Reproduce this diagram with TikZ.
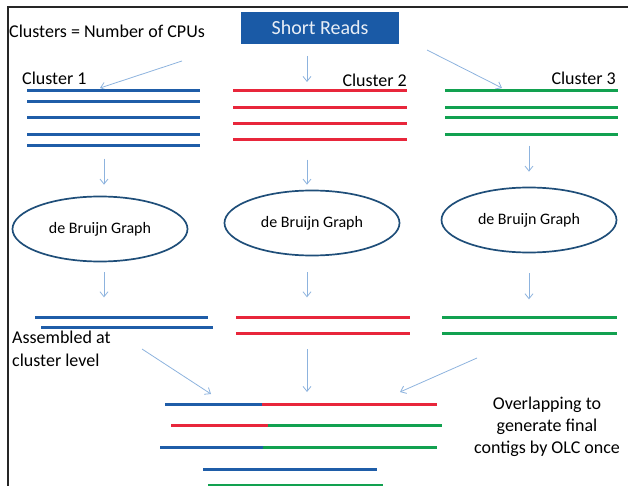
\documentclass[tikz,border=0pt]{standalone}
\usepackage{fontspec}
\setmainfont{Carlito}
\usetikzlibrary{arrows.meta,shapes.geometric}
\definecolor{readBlue}{HTML}{1F5DA8}
\definecolor{readRed}{HTML}{E8263B}
\definecolor{readGreen}{HTML}{12A150}
\definecolor{boxBlue}{HTML}{1A5AA6}
\definecolor{ovalBlue}{HTML}{1F4E79}
\definecolor{arrowBlue}{HTML}{8DB3DE}
\tikzset{
  >={Straight Barb[length=5pt,width=8pt]},
  titlebox/.style={fill=boxBlue, text=white!90!boxBlue, minimum width=158pt,
              minimum height=32pt, inner sep=0pt, font=\fontsize{20}{24}\selectfont},
  lbl/.style={font=\fontsize{18}{23}\selectfont, inner sep=0pt},
  graph/.style={ellipse, draw=ovalBlue, line width=1.7pt, minimum width=175pt,
              minimum height=65pt, inner sep=0pt, font=\fontsize{16}{19}\selectfont},
  flow/.style={->, draw=arrowBlue, line width=0.8pt},
  bread/.style={draw=readBlue, line width=3pt},
  rread/.style={draw=readRed, line width=3pt},
  gread/.style={draw=readGreen, line width=3pt},
}

\begin{document}
\begin{tikzpicture}[x=1pt,y=-1pt]
    \useasboundingbox (0,0) rectangle (628,486);
    \draw[black!85, line width=1.5pt] (8,486) -- (8,7) -- (628,7);

    \node[titlebox] (sr) at (320,28) {Short Reads};
    \node[lbl,anchor=base west] (cpu) at (9,38) {Clusters = Number of CPUs};
    \node[lbl,anchor=base west] (c1) at (22,85) {Cluster 1};
    \node[lbl,anchor=base east] (c2) at (407,87) {Cluster 2};
    \node[lbl,anchor=base east] (c3) at (616,85) {Cluster 3};

    % reads split into clusters
    \coordinate (s1) at (182,61);  \coordinate (e1) at (100,88);
    \coordinate (s2) at (307,56);  \coordinate (e2) at (307,82);
    \coordinate (s3) at (427,50);  \coordinate (e3) at (502,88);
    \draw[flow] (s1) -- (e1);
    \draw[flow] (s2) -- (e2);
    \draw[flow] (s3) -- (e3);

    \foreach \y in {91,102,118,135,146} \draw[bread] (27,\y) -- (200,\y);
    \foreach \y in {91,108,124,140} \draw[rread] (233,\y) -- (407,\y);
    \foreach \y in {91,108,118,135} \draw[gread] (445,\y) -- (618,\y);

    \node[graph] (g1) at (100,229) {de Bruijn Graph};
    \node[graph] (g2) at (312,223) {de Bruijn Graph};
    \node[graph] (g3) at (529,220) {de Bruijn Graph};

    \draw[flow] ([xshift=4pt,yshift=37pt]g1.north) -- ([xshift=4pt,yshift=11pt]g1.north);
    \draw[flow] ([xshift=-5pt,yshift=30pt]g2.north) -- ([xshift=-5pt,yshift=5pt]g2.north);
    \draw[flow] ([yshift=41pt]g3.north) -- ([yshift=15pt]g3.north);
    \draw[flow] ([xshift=4pt,yshift=-10pt]g1.south) -- ([xshift=4pt,yshift=-35pt]g1.south);
    \draw[flow] ([xshift=-5pt,yshift=-16pt]g2.south) -- ([xshift=-5pt,yshift=-41pt]g2.south);
    \draw[flow] ([yshift=-20pt]g3.south) -- ([yshift=-46pt]g3.south);

    % assembled contigs per cluster
    \draw[bread] (35,317) -- (208,317);  \draw[bread] (41,327) -- (213,327);
    \draw[rread] (236,317) -- (410,317); \draw[rread] (236,333) -- (410,333);
    \draw[gread] (442,317) -- (617,317); \draw[gread] (442,333) -- (617,333);

    \node[lbl,anchor=base west,align=left] (asm) at (12,366) {Assembled at\\cluster level};

    \coordinate (m1) at (142,349); \coordinate (n1) at (211,394);
    \coordinate (m2) at (307,349); \coordinate (n2) at (307,392);
    \coordinate (m3) at (477,358); \coordinate (n3) at (400,392);
    \draw[flow] (m1) -- (n1);
    \draw[flow] (m2) -- (n2);
    \draw[flow] (m3) -- (n3);

    % overlap of all contigs
    \draw[bread] (165,404) -- (262,404); \draw[rread] (262,404) -- (437,404);
    \draw[rread] (171,425) -- (268,425); \draw[gread] (268,425) -- (442,425);
    \draw[bread] (160,447) -- (263,447); \draw[gread] (263,447) -- (437,447);
    \draw[bread] (203,469) -- (377,469);
    \draw[gread] (208,485) -- (383,485);

    \node[lbl,anchor=base,align=center,font=\fontsize{18}{22}\selectfont] (olc) at (547,453)
         {Overlapping to\\generate final\\contigs by OLC once};
\end{tikzpicture}
\end{document}
